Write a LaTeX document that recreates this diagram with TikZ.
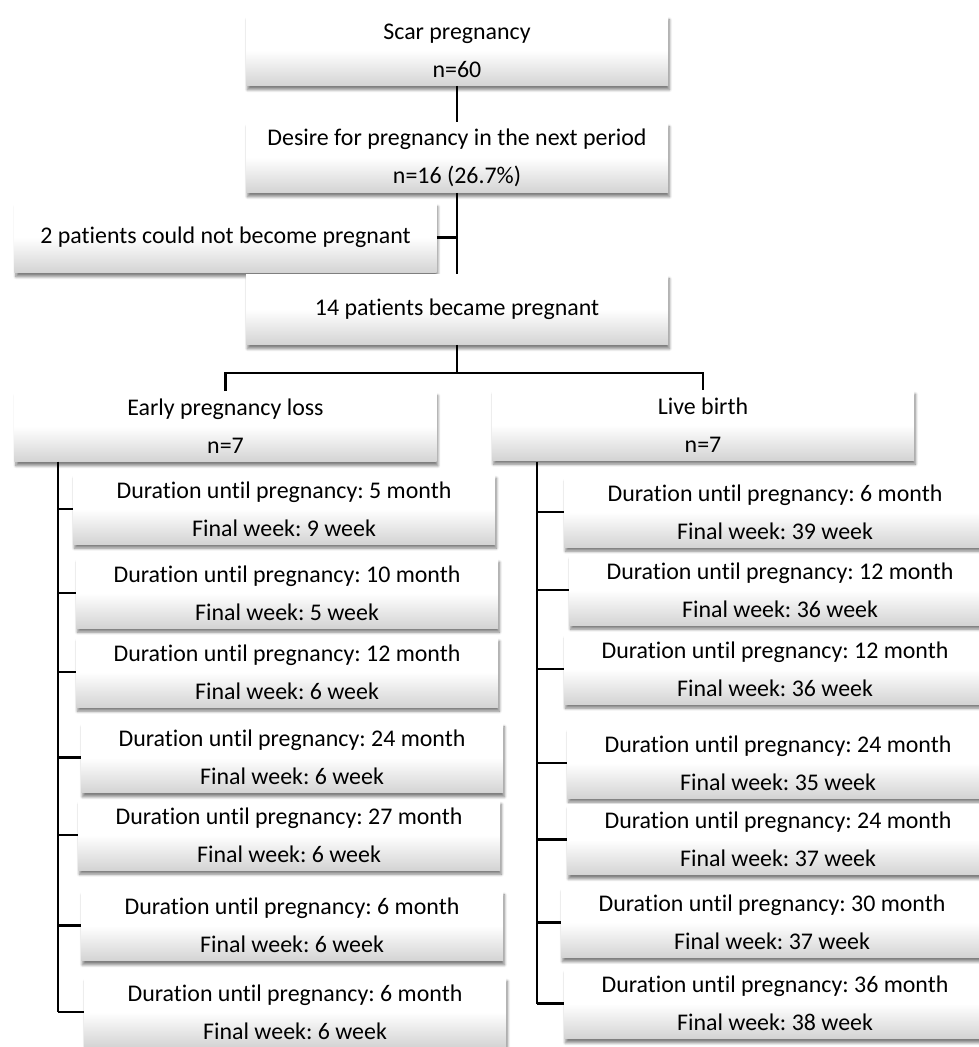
\documentclass[tikz,border=0pt]{standalone}
\usepackage{fontspec}
\setmainfont{Carlito}[Ligatures=NoCommon]
\usepackage{tikz}
\usetikzlibrary{positioning,shadows.blur}
\frenchspacing

\begin{document}
\begin{tikzpicture}[font=\fontsize{17}{27}\selectfont,
    box/.style={rectangle, minimum width=10.55cm, minimum height=1.75cm, align=center,
                inner sep=2pt, top color=white, bottom color=black!17, middle color=white,
                blur shadow={shadow xshift=1pt, shadow yshift=-3pt, shadow blur steps=8,
                             shadow opacity=50}},
    con/.style={line width=1.8pt, black}]

    \useasboundingbox (0,0) rectangle (24.475,-26.175);

    \node[box] (scar)   at (11.425,-1.2625)  {Scar pregnancy\\n=60};
    \node[box] (desire) at (11.425,-3.9375)  {Desire for pregnancy in the next period\\n=16 (26.7\%)};
    \node[box] (nopreg) at (5.6375,-5.9375)  {2 patients could not become pregnant};
    \node[box] (preg)   at (11.425,-7.7375)  {14 patients became pregnant};
    \node[box] (loss)   at (5.6375,-10.6625) {Early pregnancy loss\\n=7};
    \node[box] (live)   at (17.575,-10.625)  {Live birth\\n=7};

    % early pregnancy loss
    \node[box] (l1) at (7.1,-12.725)  {Duration until pregnancy: 5 month\\Final week: 9 week};
    \node[box] (l2) at (7.175,-14.825) {Duration until pregnancy: 10 month\\Final week: 5 week};
    \node[box] (l3) at (7.175,-16.8)  {Duration until pregnancy: 12 month\\Final week: 6 week};
    \node[box] (l4) at (7.3,-18.94)   {Duration until pregnancy: 24 month\\Final week: 6 week};
    \node[box] (l5) at (7.225,-20.875) {Duration until pregnancy: 27 month\\Final week: 6 week};
    \node[box] (l6) at (7.3,-23.14)   {Duration until pregnancy: 6 month\\Final week: 6 week};
    \node[box] (l7) at (7.375,-25.3)  {Duration until pregnancy: 6 month\\Final week: 6 week};

    % live birth
    \node[box] (r1) at (19.375,-12.8)  {Duration until pregnancy: 6 month\\Final week: 39 week};
    \node[box] (r2) at (19.5,-14.75)   {Duration until pregnancy: 12 month\\Final week: 36 week};
    \node[box] (r3) at (19.375,-16.725) {Duration until pregnancy: 12 month\\Final week: 36 week};
    \node[box] (r4) at (19.45,-19.075) {Duration until pregnancy: 24 month\\Final week: 35 week};
    \node[box] (r5) at (19.45,-20.99)  {Duration until pregnancy: 24 month\\Final week: 37 week};
    \node[box] (r6) at (19.3,-23.06)   {Duration until pregnancy: 30 month\\Final week: 37 week};
    \node[box] (r7) at (19.375,-25.09) {Duration until pregnancy: 36 month\\Final week: 38 week};

    \coordinate (split) at (11.425,-9.33);
    \coordinate (ltrunk) at (1.45,-11.5375);
    \coordinate (rtrunk) at (13.425,-11.5375);

    \draw[con] (scar) -- (desire);
    \draw[con] (desire) -- (preg);
    \draw[con] (nopreg.east) -- (nopreg.east -| desire.south);
    \draw[con] (preg.south) -- (split);
    \draw[con] (loss.north) |- (split) -| (live.north);

    \draw[con] (ltrunk) -- (ltrunk |- l7.west);
    \draw[con] (rtrunk) -- (rtrunk |- r7.west);
    \foreach \n in {l1,l2,l3,l4,l5,l6,l7} \draw[con] (ltrunk |- \n.west) -- (\n.west);
    \foreach \n in {r1,r2,r3,r4,r5,r6,r7} \draw[con] (rtrunk |- \n.west) -- (\n.west);
\end{tikzpicture}
\end{document}
